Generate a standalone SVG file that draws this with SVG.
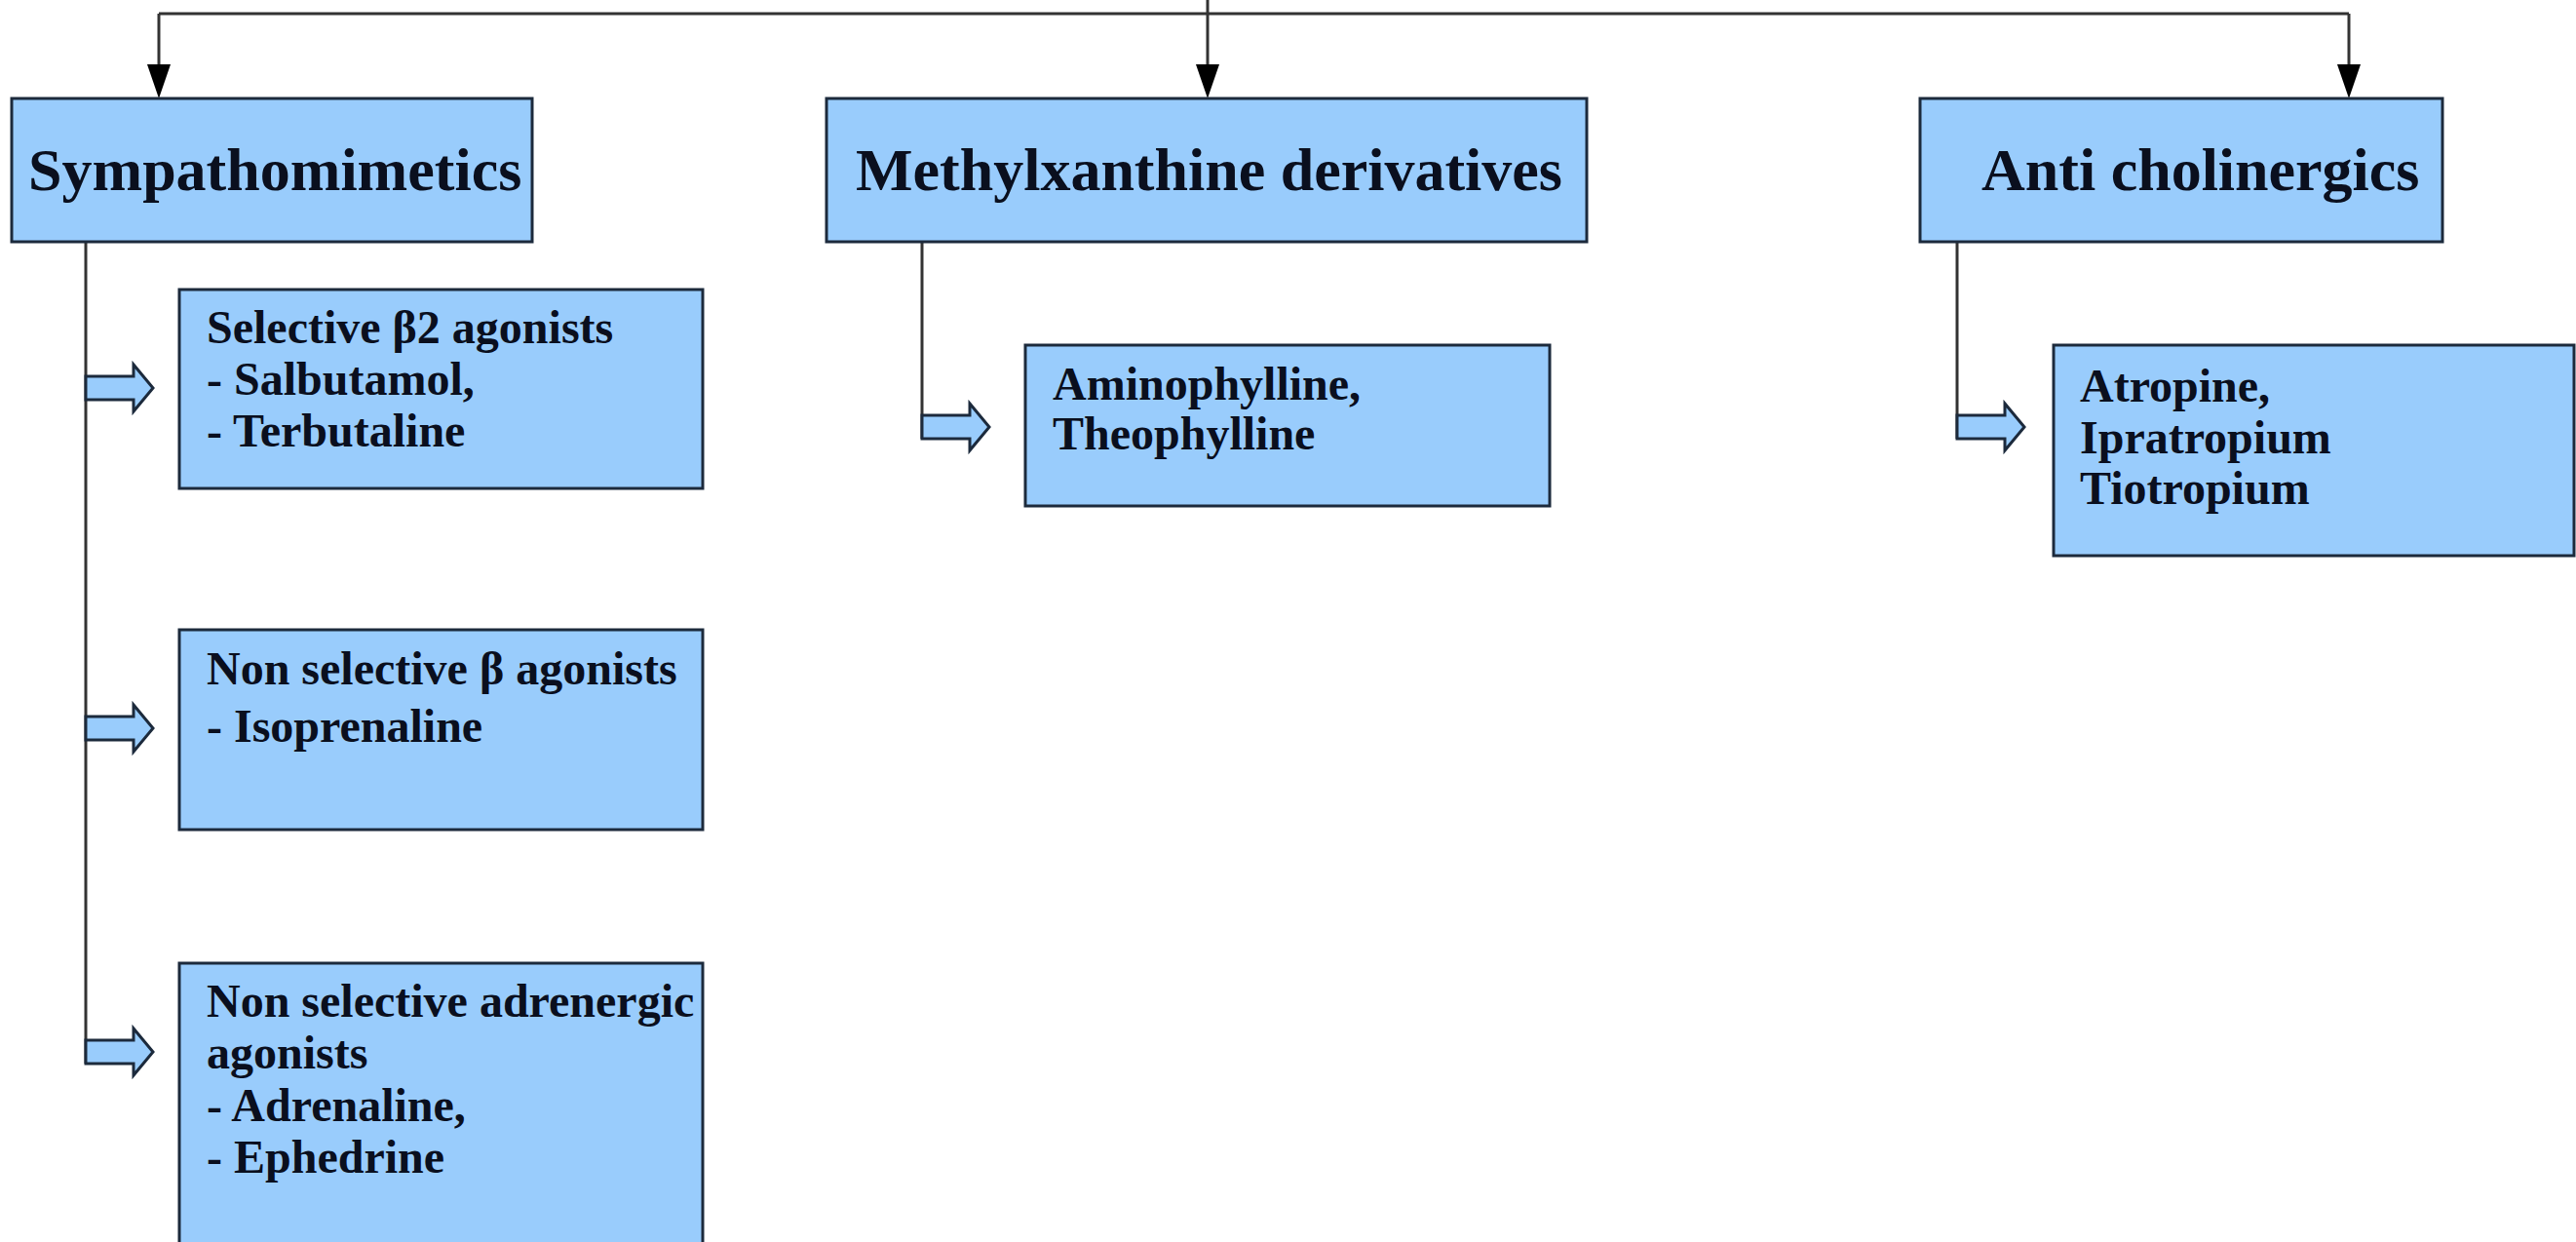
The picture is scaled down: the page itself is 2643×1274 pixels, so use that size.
<svg xmlns="http://www.w3.org/2000/svg" width="2643" height="1274" viewBox="0 0 2643 1274">
<defs>
<style>
.box{fill:#99ccfc;stroke:#1c2a3c;stroke-width:3}
.ln{fill:none;stroke:#333;stroke-width:3}
.ba{fill:#99ccfc;stroke:#1c2a3c;stroke-width:3;stroke-linejoin:miter}
.h{font-family:"Liberation Serif","Times New Roman",serif;font-weight:bold;font-size:62px;fill:#0a0f1e}
.t{font-family:"Liberation Serif","Times New Roman",serif;font-weight:bold;font-size:48px;fill:#0a0f1e}
</style>
</defs>
<rect width="2643" height="1274" fill="#fff"/>
<g id="connectors">
<path class="ln" d="M163,14 L2410,14"/>
<path class="ln" d="M1239,0 L1239,67"/>
<path class="ln" d="M163,14 L163,67"/>
<path class="ln" d="M2410,14 L2410,67"/>
<path d="M151,66 L175,66 L163,101 Z" fill="#000"/>
<path d="M1227,66 L1251,66 L1239,101 Z" fill="#000"/>
<path d="M2398,66 L2422,66 L2410,101 Z" fill="#000"/>
<path class="ln" d="M88,248 L88,1091"/>
<path class="ln" d="M946,248 L946,450"/>
<path class="ln" d="M2008,248 L2008,450"/>
<path class="ba" d="M88,386 L137,386 L137,374 L157,398 L137,422 L137,410 L88,410 Z"/>
<path class="ba" d="M88,735 L137,735 L137,723 L157,747 L137,771 L137,759 L88,759 Z"/>
<path class="ba" d="M88,1067 L137,1067 L137,1055 L157,1079 L137,1103 L137,1091 L88,1091 Z"/>
<path class="ba" d="M946,426 L995,426 L995,414 L1015,438 L995,462 L995,450 L946,450 Z"/>
<path class="ba" d="M2008,426 L2057,426 L2057,414 L2077,438 L2057,462 L2057,450 L2008,450 Z"/>
</g>
<g id="sympathomimetics">
<rect class="box" x="12" y="101" width="534" height="147"/>
<text class="h" x="29" y="195">Sympathomimetics</text>
</g>
<g id="methylxanthine">
<rect class="box" x="848" y="101" width="780" height="147"/>
<text class="h" x="878" y="195">Methylxanthine derivatives</text>
</g>
<g id="anticholinergics">
<rect class="box" x="1970" y="101" width="536" height="147"/>
<text class="h" x="2033" y="195">Anti cholinergics</text>
</g>
<g id="selective">
<rect class="box" x="184" y="297" width="537" height="204"/>
<text class="t" x="212" y="352">Selective β2 agonists</text>
<text class="t" x="212" y="405">- Salbutamol,</text>
<text class="t" x="212" y="458">- Terbutaline</text>
</g>
<g id="nonselective-beta">
<rect class="box" x="184" y="646" width="537" height="205"/>
<text class="t" x="212" y="702">Non selective β agonists</text>
<text class="t" x="212" y="761">- Isoprenaline</text>
</g>
<g id="nonselective-adrenergic">
<rect class="box" x="184" y="988" width="537" height="310"/>
<text class="t" x="212" y="1043">Non selective adrenergic</text>
<text class="t" x="212" y="1096">agonists</text>
<text class="t" x="212" y="1150">- Adrenaline,</text>
<text class="t" x="212" y="1203">- Ephedrine</text>
</g>
<g id="aminophylline">
<rect class="box" x="1052" y="354" width="538" height="165"/>
<text class="t" x="1080" y="410">Aminophylline,</text>
<text class="t" x="1080" y="461">Theophylline</text>
</g>
<g id="atropine">
<rect class="box" x="2107" y="354" width="534" height="216"/>
<text class="t" x="2134" y="412">Atropine,</text>
<text class="t" x="2134" y="465">Ipratropium</text>
<text class="t" x="2134" y="517">Tiotropium</text>
</g>
</svg>
